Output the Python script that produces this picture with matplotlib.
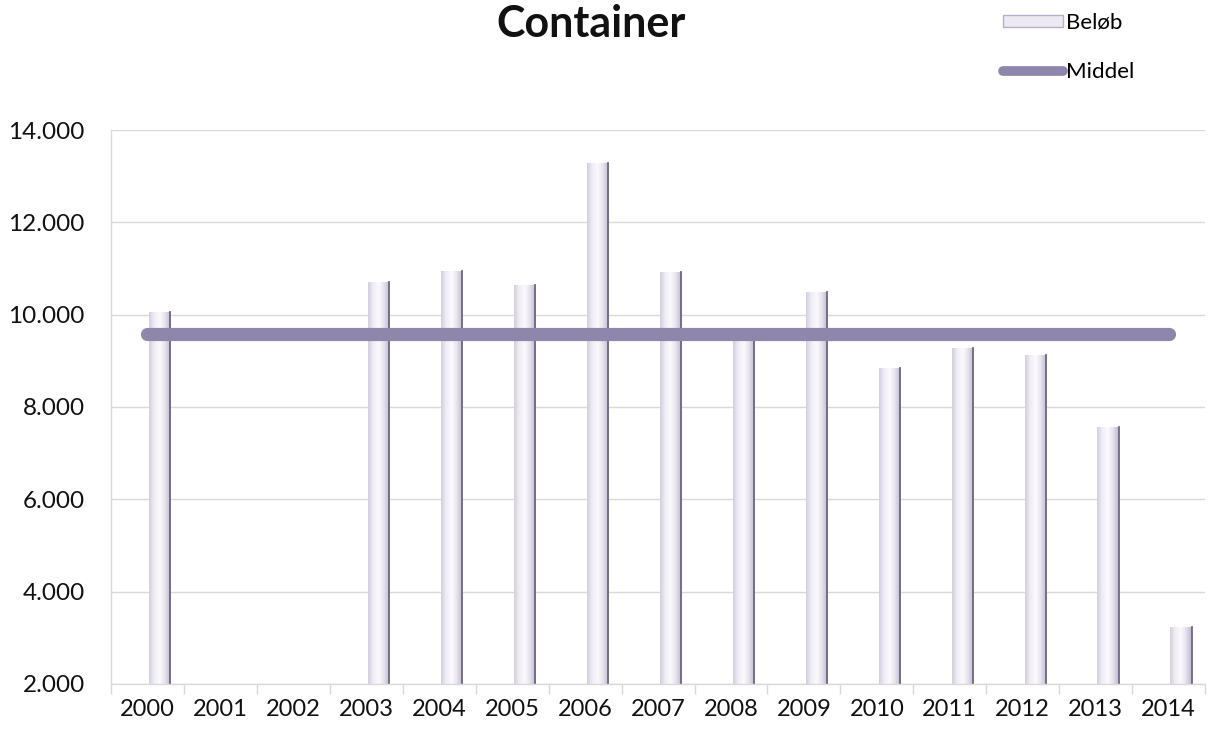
"""
Container: beløb pr. år med middel-linje.
"""
import matplotlib
matplotlib.use("Agg")
import matplotlib.pyplot as plt
import numpy as np
from matplotlib.colors import LinearSegmentedColormap
from matplotlib.lines import Line2D
from matplotlib.patches import Rectangle

years = ["2000", "2001", "2002", "2003", "2004", "2005", "2006", "2007",
         "2008", "2009", "2010", "2011", "2012", "2013", "2014"]
beloeb = [10050, 0, 0, 10700, 10950, 10650, 13280, 10920,
          9500, 10500, 8850, 9280, 9130, 7570, 3230]
middel = [9590] * len(years)

y_ticks = [2000, 4000, 6000, 8000, 10000, 12000, 14000]
y_labels = ["2.000", "4.000", "6.000", "8.000", "10.000", "12.000", "14.000"]

plt.rcParams["font.family"] = ["Lato", "DejaVu Sans"]

BAR_COLOR = "#ebe8f1"
EDGE_DARK = "#6e6880"
MEAN_COLOR = "#8e86ab"
GRID_COLOR = "#d9d9d9"
TEXT_COLOR = "#111111"

cyl = LinearSegmentedColormap.from_list(
    "cyl", ["#d3cede", "#f1eff6", "#fbfafd", "#e4e0ec", "#bdb5ce"])
grad = np.linspace(0, 1, 64).reshape(1, -1)

fig = plt.figure(figsize=(12.16, 7.32), dpi=100)
ax = fig.add_axes([0.0913, 0.0656, 0.8997, 0.7568])

x = np.arange(len(years))
offset = 0.17
width = 0.29
bars = ax.bar(x + offset, [v - 2000 if v > 2000 else 0 for v in beloeb],
              bottom=2000, width=width, color=BAR_COLOR, zorder=2)

# cylinder shading clipped to each bar
for b in bars:
    if b.get_height() <= 0:
        continue
    x0, y0 = b.get_x(), b.get_y()
    w, h = b.get_width(), b.get_height()
    im = ax.imshow(grad, cmap=cyl, aspect="auto",
                   extent=[x0, x0 + w, y0, y0 + h], zorder=2.1)
    im.set_clip_path(b)
    ax.plot([x0 + w, x0 + w], [y0, y0 + h], color=EDGE_DARK, lw=1.3, zorder=2.2)

ax.plot(x, middel, color=MEAN_COLOR, lw=9.5, solid_capstyle="round", zorder=3)

ax.set_xlim(-0.5, len(years) - 0.5)
ax.set_ylim(2000, 14000)
ax.set_yticks(y_ticks)
ax.set_yticklabels(y_labels)
ax.set_xticks(x)
ax.set_xticklabels(years)
ax.set_xticks(np.arange(-0.5, len(years)), minor=True)
ax.set_axisbelow(True)
ax.grid(axis="y", color=GRID_COLOR, lw=1)

for side in ["top", "right"]:
    ax.spines[side].set_visible(False)
for side in ["left", "bottom"]:
    ax.spines[side].set_color(GRID_COLOR)
    ax.spines[side].set_linewidth(1)

ax.tick_params(axis="y", length=0, pad=19, labelsize=17.5, colors=TEXT_COLOR)
ax.tick_params(axis="x", which="major", length=0, pad=11, labelsize=17,
               colors=TEXT_COLOR)
ax.tick_params(axis="x", which="minor", length=7, width=1, color=GRID_COLOR)

fig.text(0.486, 0.995, "Container", ha="center", va="top",
         fontsize=31, fontweight="bold", color=TEXT_COLOR)

# legend
handles = [
    Rectangle((0, 0), 1, 1, facecolor="#ece9f2", edgecolor="#b8b0c8", lw=1),
    Line2D([0], [0], color=MEAN_COLOR, lw=7, solid_capstyle="round"),
]
fig.legend(handles, ["Beløb", "Middel"], loc="upper left",
           bbox_to_anchor=(0.808, 1.01), frameon=False, fontsize=16,
           handlelength=2.7, handleheight=0.45, handletextpad=0.15,
           labelspacing=1.3)

fig.savefig("out.png", dpi=100)
